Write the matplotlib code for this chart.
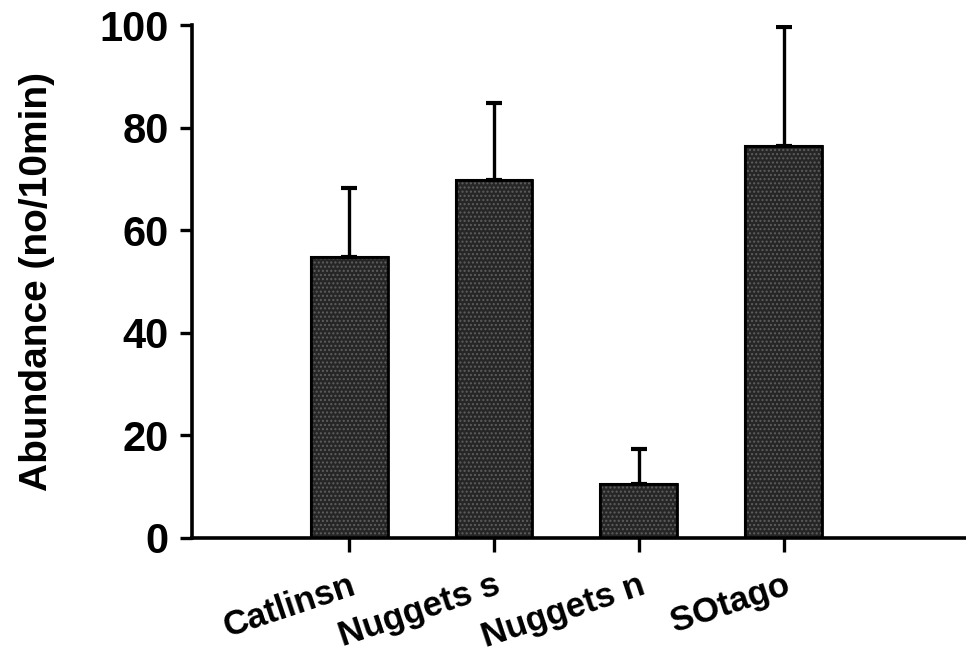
import matplotlib
matplotlib.use("Agg")
import matplotlib.pyplot as plt
import matplotlib.transforms as mtransforms
import numpy as np

categories = ["Catlinsn", "Nuggets s", "Nuggets n", "SOtago"]
means = [54.8, 69.8, 10.5, 76.4]
upper_err = [13.4, 15.0, 6.8, 23.2]
yticks = [0, 20, 40, 60, 80, 100]

plt.rcParams['font.family'] = ['Liberation Sans', 'DejaVu Sans']

fig = plt.figure(figsize=(9.66, 6.6), dpi=100)
ax = fig.add_axes([0.199, 0.185, 0.801, 0.777])

x = np.arange(len(categories))
ax.bar(x, means, width=0.53, color='#262626', edgecolor='black', linewidth=1.5, zorder=2)
ax.bar(x, means, width=0.53, fill=False, hatch='....', edgecolor='#5e5e5e', linewidth=0, zorder=2.1)
ax.bar(x, means, width=0.53, fill=False, edgecolor='black', linewidth=2.0, zorder=2.2)
ax.errorbar(x, means, yerr=[np.zeros(len(means)), upper_err], fmt='none',
            ecolor='black', elinewidth=2.4, capsize=6, capthick=3, zorder=3)

ax.set_xlim(-1.085, 4.26)
ax.set_ylim(0, 100)
ax.set_yticks(yticks)
ax.set_xticks(x)
ax.set_xticklabels(categories, rotation=18.5, ha='right', rotation_mode='anchor',
                   fontsize=25, fontweight='bold')
offset = mtransforms.ScaledTranslation(-5 / 100, 0, fig.dpi_scale_trans)
for lbl in ax.get_xticklabels():
    lbl.set_transform(lbl.get_transform() + offset)
for lbl in ax.get_yticklabels():
    lbl.set_fontweight('bold')
ax.tick_params(axis='y', labelsize=30, length=9, width=2.4, pad=8)
ax.tick_params(axis='x', length=10, width=2.4, pad=12)

for s in ['top', 'right']:
    ax.spines[s].set_visible(False)
for s in ['left', 'bottom']:
    ax.spines[s].set_linewidth(2.6)

ax.set_ylabel("Abundance (no/10min)", fontsize=28, fontweight='bold', labelpad=32)

fig.savefig("out.png", dpi=100)
